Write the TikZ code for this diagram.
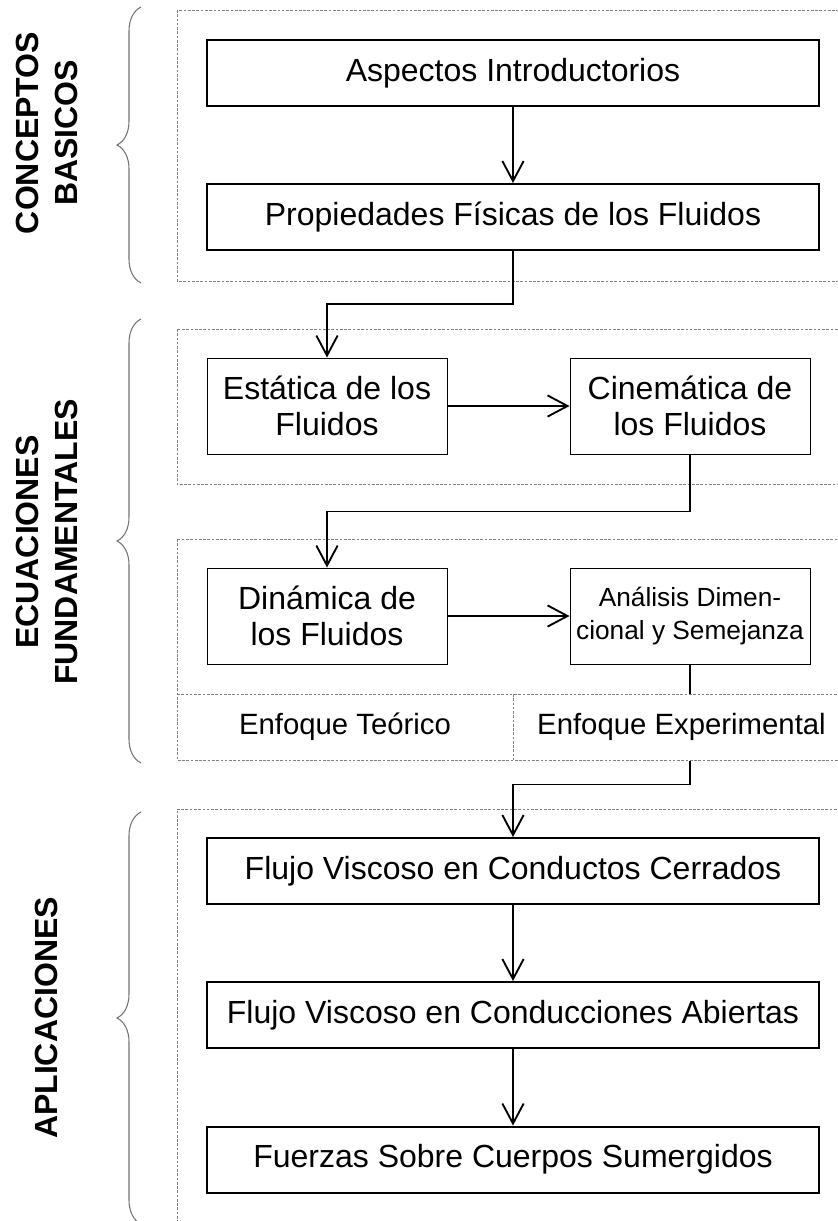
\documentclass[tikz,border=0pt]{standalone}
\usepackage{fontspec}
\setmainfont{Liberation Sans}
\usetikzlibrary{arrows.meta,decorations.pathreplacing}

\tikzset{every picture/.style={line width=0.75pt}}
\tikzset{
  mainbox/.style={draw, line width=1.5pt, minimum width=459pt, minimum height=49.5pt, inner sep=0pt, font=\fontsize{24}{27}\selectfont},
  thinbox/.style={draw, line width=0.75pt, minimum width=180pt, minimum height=72pt, inner sep=0pt, align=center, font=\fontsize{24}{27}\selectfont},
  cellbox/.style={inner sep=0pt, font=\fontsize{22}{25}\selectfont},
  grouplabel/.style={rotate=90, align=center, font=\fontsize{24}{29}\selectfont\bfseries},
  panel/.style={draw=gray, line width=0.6pt, dash pattern=on 2pt off 1.2pt},
  flow/.style={line width=1.4pt, -{Straight Barb[length=15pt,width=16pt,line width=1.4pt]}},
  link/.style={line width=1.4pt},
  groupbrace/.style={draw=gray!90!black, line width=0.8pt, decorate, decoration={brace, amplitude=18pt}}
}

\begin{document}
\begin{tikzpicture}[x=0.75pt,y=0.75pt,yscale=-1,xscale=1]
\useasboundingbox (0,0) rectangle (838,1221);
\clip (0,0) rectangle (838,1221);

% Panels
\draw [panel] (177,10) rectangle (860,281);
\draw [panel] (177,329) rectangle (860,484);
\draw [panel] (177,539) rectangle (860,760);
\draw [panel] (177,694) -- (860,694);
\draw [panel] (513,694) -- (513,760);
\draw [panel] (177,1240) -- (177,809) -- (860,809);

% Braces
\draw [groupbrace] (141,283) -- (141,7);
\draw [groupbrace] (141,763) -- (141,319);
\draw [groupbrace] (141,1224) -- (141,812);

% Group labels
\node (lbasic) at (47,133) [grouplabel] {CONCEPTOS\\BASICOS};
\node (lecua) at (47,542) [grouplabel] {ECUACIONES\\FUNDAMENTALES};
\node (lapli) at (46,1018) [grouplabel] {APLICACIONES};

% Boxes
\node (asp) at (513,73) [mainbox] {Aspectos Introductorios};
\node (prop) at (513,217) [mainbox] {Propiedades Físicas de los Fluidos};
\node (est) at (327,406) [thinbox] {Estática de los\\Fluidos};
\node (cin) at (690,406) [thinbox] {Cinemática de\\los Fluidos};
\node (din) at (327,616) [thinbox] {Dinámica de\\los Fluidos};
\node (ana) at (690,616) [thinbox, font=\fontsize{19.7}{24.5}\selectfont] {Análisis Dimen-\\cional y Semejanza};
\node (teo) at (345,727) [cellbox, minimum width=252pt, minimum height=49.5pt] {Enfoque Teórico};
\node (exp) at (681.5,727) [cellbox, minimum width=252.4pt, minimum height=49.5pt] {Enfoque Experimental};
\node (cer) at (513,871) [mainbox] {Flujo Viscoso en Conductos Cerrados};
\node (abi) at (513,1015) [mainbox] {Flujo Viscoso en Conducciones Abiertas};
\node (fue) at (513,1159.5) [mainbox] {Fuerzas Sobre Cuerpos Sumergidos};

% Connectors
\draw [flow] (asp) -- (prop);
\draw [flow] (prop.south) -- ++(0,53) -| (est.north);
\draw [flow] (est) -- (cin);
\draw [flow] (cin.south) -- ++(0,57) -| (din.north);
\draw [flow] (din) -- (ana);
\draw [link] (ana.south) -- (ana.south |- exp.north);
\draw [flow] (ana.south |- exp.south) -- ++(0,24) -| (cer.north);
\draw [flow] (cer) -- (abi);
\draw [flow] (abi) -- (fue);

\end{tikzpicture}
\end{document}
